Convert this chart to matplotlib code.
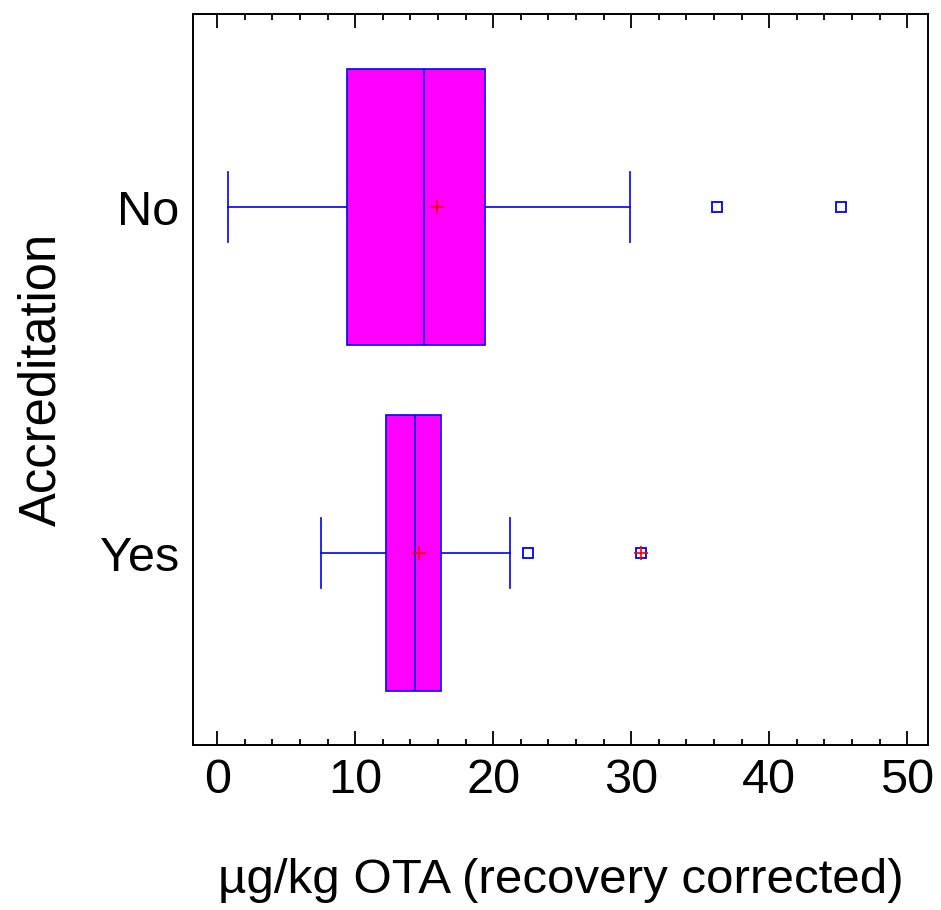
import matplotlib
matplotlib.use('Agg')
import matplotlib.pyplot as plt
from matplotlib.ticker import MultipleLocator

plt.rcParams['font.family'] = ['Liberation Sans', 'DejaVu Sans']

# --- data ---
groups = ['Yes', 'No']
whislo = [7.5, 0.8]
q1 = [12.25, 9.4]
med = [14.3, 15.0]
q3 = [16.2, 19.4]
whishi = [21.2, 29.9]
means = [14.6, 15.9]
fliers = [[22.5, 30.7], [36.2, 45.2]]
far_out = [[30.7], []]   # points marked with a red + over the square

stats = []
for i, g in enumerate(groups):
    stats.append(dict(label=g, whislo=whislo[i], q1=q1[i], med=med[i], q3=q3[i],
                      whishi=whishi[i], mean=means[i], fliers=fliers[i]))

fig = plt.figure(figsize=(9.41, 9.10), dpi=100)
ax = fig.add_axes([0.2051, 0.1813, 0.7811, 0.8033])

blue = '#0000FF'
ax.bxp(stats, positions=[1, 2], widths=0.8, orientation='horizontal',
       patch_artist=True, showmeans=True, showfliers=True,
       boxprops=dict(facecolor='#FF00FF', edgecolor=blue, linewidth=1.2),
       medianprops=dict(color=blue, linewidth=1.2),
       whiskerprops=dict(color=blue, linewidth=1.2),
       capprops=dict(color=blue, linewidth=1.2),
       capwidths=0.2,
       meanprops=dict(marker='+', markeredgecolor='red', markersize=10, markeredgewidth=1.2),
       flierprops=dict(marker='s', markerfacecolor='none', markeredgecolor=blue,
                       markersize=6.5, markeredgewidth=1.3))

for i, pts in enumerate(far_out):
    if pts:
        ax.plot(pts, [i + 1] * len(pts), linestyle='none', marker='+',
                markeredgecolor='red', markersize=10, markeredgewidth=1.2)

ax.set_xlim(-1.75, 51.5)
ax.set_ylim(0.445, 2.558)
ax.xaxis.set_major_locator(MultipleLocator(10))
ax.xaxis.set_minor_locator(MultipleLocator(2))
ax.tick_params(axis='x', which='both', direction='in', top=True, bottom=True,
               labelsize=35, pad=9, width=1.3)
ax.tick_params(axis='x', which='major', length=10)
ax.tick_params(axis='x', which='minor', length=4.5)
ax.tick_params(axis='y', length=0, labelsize=35, pad=10)
ax.set_yticks([1, 2])
ax.set_yticklabels(groups)
for s in ax.spines.values():
    s.set_linewidth(1.4)

ax.set_xlabel('µg/kg OTA (recovery corrected)', fontsize=35.5, labelpad=40)
ax.set_ylabel('Accreditation', fontsize=36.5, labelpad=24)

fig.savefig('out.png', dpi=100)
